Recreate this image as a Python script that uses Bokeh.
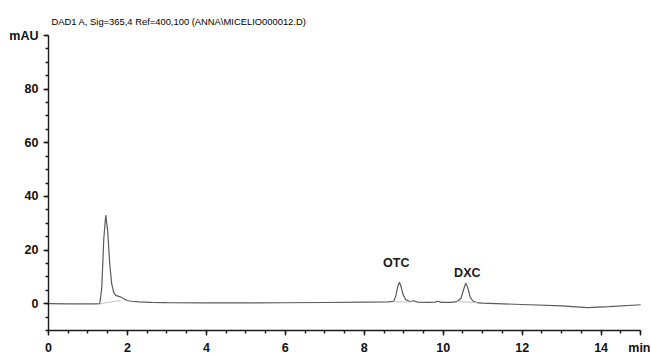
from bokeh.plotting import figure
from bokeh.models import FixedTicker, Range1d, Label
from bokeh.embed import file_html
from bokeh.resources import INLINE

# Chromatogram trace (time in min, signal in mAU)
time_min = [0.0, 0.5, 1.0, 1.2, 1.30, 1.35, 1.40, 1.45, 1.50, 1.55, 1.60, 1.65, 1.70, 1.78,
            1.85, 1.92, 2.0, 2.1, 2.3, 2.6, 3.0, 4.0, 5.0, 6.0, 7.0, 8.0, 8.6, 8.75, 8.80,
            8.85, 8.89, 8.93, 8.98, 9.05, 9.15, 9.25, 9.35, 9.6, 9.8, 9.86, 9.95, 10.2,
            10.35, 10.45, 10.51, 10.57, 10.62, 10.68, 10.75, 10.85, 11.0, 12.0, 13.0,
            13.65, 14.2, 15.0]
signal_mau = [0.0, -0.05, -0.1, -0.1, 0.0, 6.0, 24.0, 33.0, 27.0, 15.0, 7.5, 4.3, 3.1, 2.7,
              2.4, 1.7, 1.2, 0.9, 0.7, 0.5, 0.4, 0.3, 0.3, 0.35, 0.45, 0.6, 0.7, 0.9, 3.0,
              6.5, 8.0, 6.5, 3.5, 1.5, 0.8, 1.1, 0.6, 0.5, 0.6, 0.9, 0.5, 0.5,
              0.8, 2.0, 5.0, 7.6, 6.0, 2.5, 1.0, 0.4, 0.2, -0.3, -0.8,
              -1.5, -1.1, -0.4]

# Integration baselines drawn under the peaks
base_t0 = [1.30, 8.78, 10.35]
base_v0 = [0.0, 0.7, 0.8]
base_t1 = [1.82, 9.20, 10.85]
base_v1 = [1.2, 0.6, 0.4]

# Peak annotations
peak_names = ["OTC", "DXC"]
peak_t = [8.81, 10.61]
peak_v = [12.5, 9.0]

x_major = [0, 2, 4, 6, 8, 10, 12, 14, 15]
x_labels = {15: "min"}
y_major = [0, 20, 40, 60, 80, 100]
y_labels = {100: "mAU"}

title_text = "DAD1 A, Sig=365,4 Ref=400,100 (ANNA\\MICELIO000012.D)"

FONT = "Liberation Sans"
AX = "#1a1a1a"

p = figure(width=650, height=357, output_backend="svg", toolbar_location=None,
           x_range=Range1d(0, 15.2), y_range=Range1d(-10, 100),
           min_border_left=48, min_border_right=2, min_border_top=35, min_border_bottom=25)
p.outline_line_color = None
p.grid.grid_line_color = None
p.background_fill_color = "white"

p.title.text = title_text
p.title.text_font = FONT
p.title.text_font_size = "9.4px"
p.title.text_font_style = "normal"
p.title.text_color = "#000000"
p.title.offset = 3
p.title.standoff = 18

p.line(time_min, signal_mau, line_color="#5a5a5a", line_width=1.2)
p.segment(base_t0, base_v0, base_t1, base_v1, line_color="#c4c4c4", line_width=1)

for name, t, v in zip(peak_names, peak_t, peak_v):
    p.add_layout(Label(x=t, y=v, text=name, text_font=FONT, text_font_size="12.5px",
                       text_font_style="bold", text_align="center", text_baseline="bottom",
                       text_color="#1a1a1a"))

xa = p.xaxis[0]
xa.ticker = FixedTicker(ticks=x_major, minor_ticks=[i * 0.5 for i in range(31)])
xa.major_label_overrides = x_labels
xa.bounds = (0, 15)
ya = p.yaxis[0]
ya.ticker = FixedTicker(ticks=y_major, minor_ticks=[-10 + 5 * i for i in range(23)])
ya.major_label_overrides = y_labels
ya.bounds = (-10, 100)

for ax in (xa, ya):
    ax.axis_line_color = AX
    ax.axis_line_width = 1.4
    ax.major_tick_line_color = AX
    ax.minor_tick_line_color = AX
    ax.major_tick_line_width = 1.4
    ax.minor_tick_line_width = 1.4
    ax.major_tick_out = 5
    ax.major_tick_in = 0
    ax.minor_tick_out = 3
    ax.minor_tick_in = 0
    ax.major_label_text_font = FONT
    ax.major_label_text_font_size = "12.5px"
    ax.major_label_text_font_style = "bold"
    ax.major_label_text_color = "#111111"
    ax.major_label_standoff = 5

open("out.html", "w").write(file_html(p, INLINE))
